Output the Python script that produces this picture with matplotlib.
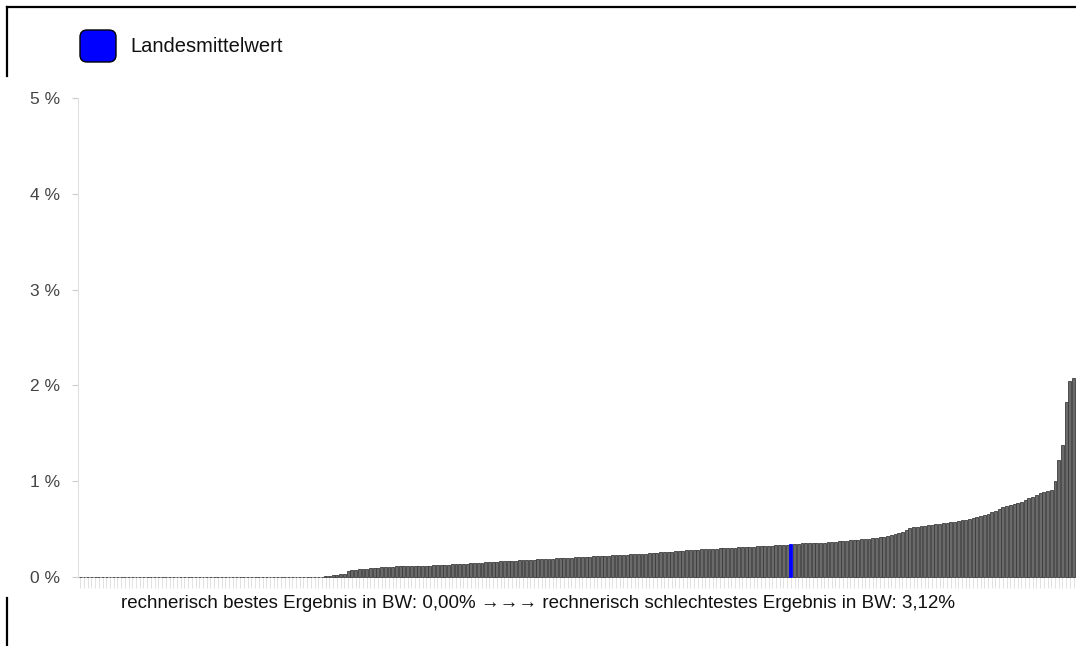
import numpy as np
import matplotlib
matplotlib.use("Agg")
import matplotlib.pyplot as plt
from matplotlib.patches import FancyBboxPatch
from matplotlib.lines import Line2D
from matplotlib.transforms import IdentityTransform

plt.rcParams['font.family'] = ['Liberation Sans', 'DejaVu Sans']

# Ergebnisse je Krankenhaus (in %), aufsteigend sortiert
werte = ([0.00] * 66 +
         [0.01, 0.01, 0.02, 0.02, 0.03, 0.03] +
         [0.06, 0.07, 0.07, 0.08] +
         [0.08, 0.08, 0.09, 0.09, 0.09, 0.10, 0.10, 0.10, 0.10, 0.11] +
         [0.11, 0.11, 0.11, 0.11, 0.12, 0.12, 0.12, 0.12, 0.12, 0.13,
          0.13, 0.13, 0.13, 0.13, 0.14, 0.14, 0.14, 0.14] +
         [0.14, 0.15, 0.15, 0.15, 0.15, 0.16, 0.16, 0.16, 0.16, 0.17, 0.17] +
         [0.17, 0.17, 0.17, 0.18, 0.18, 0.18, 0.18, 0.18, 0.19, 0.19,
          0.19, 0.19, 0.19, 0.20, 0.20, 0.20] +
         [0.20, 0.20, 0.21, 0.21, 0.21, 0.21, 0.21, 0.22, 0.22, 0.22, 0.22] +
         [0.22, 0.23, 0.23, 0.23, 0.23, 0.23, 0.24, 0.24, 0.24, 0.24, 0.24] +
         [0.25, 0.25, 0.25, 0.26, 0.26, 0.26, 0.26, 0.27, 0.27, 0.27,
          0.28, 0.28, 0.28] +
         [0.28, 0.29, 0.29, 0.29, 0.29, 0.29, 0.30, 0.30, 0.30, 0.30,
          0.30, 0.31, 0.31, 0.31, 0.31, 0.31, 0.32, 0.32, 0.32, 0.32,
          0.32, 0.33, 0.33, 0.33, 0.33] +
         [0.34] +
         [0.34, 0.34, 0.35, 0.35, 0.35, 0.35, 0.36, 0.36, 0.36, 0.37,
          0.37, 0.37, 0.38, 0.38, 0.38, 0.39] +
         [0.39, 0.39, 0.40, 0.40, 0.40, 0.41, 0.41, 0.42] +
         [0.42, 0.43, 0.44, 0.45, 0.46, 0.47, 0.49] +
         [0.51, 0.52, 0.52, 0.53, 0.53, 0.54] +
         [0.54, 0.55, 0.55, 0.56, 0.56, 0.57, 0.57] +
         [0.58, 0.59, 0.60, 0.61, 0.62, 0.63, 0.64] +
         [0.65, 0.66, 0.68, 0.69, 0.71, 0.73] +
         [0.74, 0.75, 0.76, 0.77, 0.78, 0.80] +
         [0.82, 0.84, 0.86, 0.88, 0.89] +
         [0.90, 0.91] +
         [1.00, 1.22, 1.38, 1.83, 2.05, 2.08])
landesmittel_idx = 191

y_ticks = [0, 1, 2, 3, 4, 5]
y_labels = ['0 %', '1 %', '2 %', '3 %', '4 %', '5 %']
legende = 'Landesmittelwert'
fusszeile = ('rechnerisch bestes Ergebnis in BW: 0,00% \u2192\u2192\u2192 '
             'rechnerisch schlechtestes Ergebnis in BW: 3,12%')

W, H = 1076, 646
fig = plt.figure(figsize=(W / 100, H / 100), dpi=100)
ax = fig.add_axes([78 / W, 69 / H, 998 / W, 479 / H])

n = len(werte)
x = np.arange(n)
farben = ['#6a6a6a'] * n
kanten = ['#3c3c3c'] * n
farben[landesmittel_idx] = '#0000ff'
kanten[landesmittel_idx] = '#0000ff'
ax.bar(x, werte, width=0.78, color=farben, edgecolor=kanten, linewidth=0.6,
       zorder=3, clip_on=False)

ax.set_xlim(-0.6, n - 0.35)
ax.set_ylim(0, 5)
ax.set_yticks(y_ticks)
ax.set_yticklabels(y_labels)
ax.set_xticks(x)
ax.set_xticklabels([])
ax.tick_params(axis='x', length=8, width=0.6, color='#dddddd', direction='out')
ax.tick_params(axis='y', length=4, width=0.8, color='#cccccc', labelsize=12.5,
               labelcolor='#444444', pad=9)
for s in ['top', 'right']:
    ax.spines[s].set_visible(False)
ax.spines['left'].set_color('#e0e0e0')
ax.spines['bottom'].set_color('#e0e0e0')
ax.spines['left'].set_linewidth(0.8)
ax.spines['bottom'].set_linewidth(0.8)

# Legende
patch = FancyBboxPatch((80, H - 62), 36, 32,
                       boxstyle='round,pad=0,rounding_size=7',
                       facecolor='#0000ff', edgecolor='black', linewidth=1,
                       transform=IdentityTransform())
fig.add_artist(patch)
fig.text(130 / W, 1 - 47 / H, legende, fontsize=14.5, va='center', ha='left',
         color='#111111')

fig.text(538 / W, 1 - 603 / H, fusszeile, fontsize=13.5, ha='center',
         va='center', color='#111111')

# Rahmen
fig.add_artist(Line2D([7 / W, 1], [1 - 7 / H, 1 - 7 / H], color='black',
                      linewidth=1.6))
fig.add_artist(Line2D([7 / W, 7 / W], [1 - 7 / H, 1 - 76 / H], color='black',
                      linewidth=1.6))
fig.add_artist(Line2D([7 / W, 7 / W], [1 - 598 / H, 0], color='black',
                      linewidth=1.6))

fig.savefig('out.png', dpi=100)
